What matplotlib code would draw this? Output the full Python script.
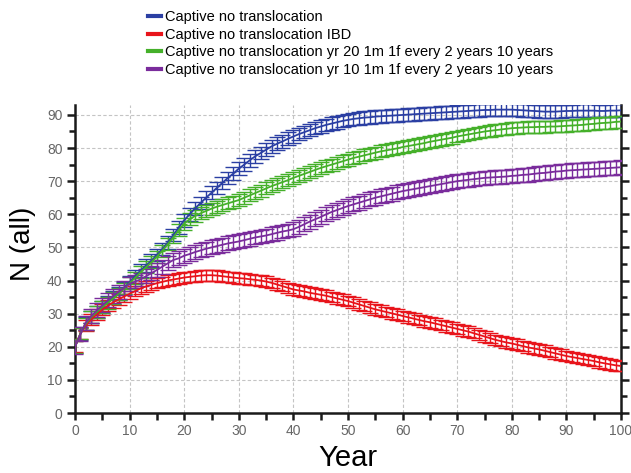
import numpy as np
import matplotlib
matplotlib.use("Agg")
import matplotlib.pyplot as plt
from matplotlib.lines import Line2D
from matplotlib.ticker import MultipleLocator

plt.rcParams['font.family'] = ['Liberation Sans', 'DejaVu Sans']

years = list(range(0, 101))

labels = [
    "Captive no translocation",
    "Captive no translocation IBD",
    "Captive no translocation yr 20 1m 1f every 2 years 10 years",
    "Captive no translocation yr 10 1m 1f every 2 years 10 years",
]

n_blue = [20, 24, 27, 29, 30.5, 32, 33.5, 34.8, 36, 37.8,
          39.5, 41.2, 43, 44.5, 46, 47.7, 49.5, 51.5, 53.7, 56,
          58.2, 60, 61.8, 63.4, 65, 66.5, 68, 69.5, 71, 72.3,
          73.8, 75, 76.3, 77.5, 78.5, 79.5, 80.5, 81.3, 82, 82.8,
          83.5, 84.2, 84.8, 85.4, 86, 86.5, 87, 87.4, 87.8, 88.2,
          88.5, 88.8, 89, 89.2, 89.3, 89.5, 89.6, 89.7, 89.8, 89.9,
          90, 90.1, 90.2, 90.3, 90.4, 90.5, 90.6, 90.7, 90.8, 90.9,
          91, 91.1, 91.2, 91.3, 91.4, 91.5, 91.5, 91.6, 91.6, 91.6,
          91.6, 91.5, 91.4, 91.3, 91.2, 91.1, 91, 91, 91, 91.1,
          91.2, 91.2, 91.3, 91.3, 91.3, 91.3, 91.2, 91.2, 91.3, 91.3,
          91.4]

n_red = [20, 24, 26.5, 28.3, 29.8, 31.2, 32.4, 33.4, 34.3, 35.2,
         36, 36.8, 37.6, 38.2, 38.7, 39.2, 39.6, 40, 40.3, 40.6,
         40.9, 41.1, 41.3, 41.5, 41.6, 41.6, 41.5, 41.3, 41.1, 40.9,
         40.7, 40.6, 40.4, 40.2, 40, 39.7, 39.3, 38.8, 38.3, 37.8,
         37.3, 37, 36.7, 36.3, 36, 35.7, 35.4, 35, 34.6, 34.2,
         33.8, 33.3, 32.8, 32.3, 31.8, 31.3, 30.9, 30.5, 30.1, 29.7,
         29.3, 28.9, 28.5, 28.1, 27.7, 27.4, 27, 26.6, 26.2, 25.8,
         25.4, 25, 24.6, 24.1, 23.6, 23.1, 22.6, 22.1, 21.7, 21.3,
         21, 20.6, 20.2, 19.8, 19.5, 19.2, 18.8, 18.4, 18, 17.6,
         17.2, 16.9, 16.6, 16.3, 16, 15.7, 15.3, 15, 14.7, 14.4,
         14.2]

n_green = [20, 24, 27, 29, 30.5, 32, 33.3, 34.6, 36, 37.6,
           39.2, 40.8, 42.5, 44, 45.5, 47.2, 49, 51, 53, 55.2,
           57.2, 58.5, 59.5, 60.3, 61, 61.7, 62.3, 62.8, 63.3, 63.8,
           64.3, 65, 65.7, 66.4, 67.1, 67.8, 68.5, 69.1, 69.7, 70.3,
           71, 71.6, 72.2, 72.8, 73.4, 74, 74.5, 75, 75.5, 76,
           76.5, 77, 77.4, 77.8, 78.2, 78.6, 79, 79.3, 79.6, 79.9,
           80.3, 80.6, 80.9, 81.2, 81.5, 81.9, 82.2, 82.5, 82.8, 83.1,
           83.5, 83.8, 84.1, 84.4, 84.7, 85, 85.2, 85.4, 85.6, 85.8,
           86, 86.1, 86.2, 86.3, 86.3, 86.4, 86.4, 86.5, 86.5, 86.6,
           86.7, 86.8, 86.9, 87, 87.2, 87.3, 87.5, 87.6, 87.7, 87.9,
           88]

n_purple = [20, 23.8, 27.3, 29.3, 31, 32.5, 34, 35.4, 36.6, 37.8,
            39, 39.7, 40.3, 41.3, 42.2, 43.2, 44.2, 45.2, 46.2, 46.7,
            47.5, 48, 48.6, 49.1, 49.6, 50, 50.4, 50.8, 51.2, 51.5,
            51.8, 52.2, 52.6, 53, 53.3, 53.6, 54, 54.4, 54.8, 55.1,
            55.5, 56.2, 57, 57.8, 58.5, 59.2, 60, 60.7, 61.3, 61.9,
            62.5, 63, 63.5, 64, 64.5, 65, 65.4, 65.8, 66.2, 66.6,
            67, 67.3, 67.6, 67.9, 68.2, 68.5, 68.8, 69.1, 69.4, 69.7,
            70, 70.2, 70.4, 70.6, 70.8, 71, 71.1, 71.2, 71.3, 71.4,
            71.6, 71.7, 71.9, 72, 72.2, 72.4, 72.5, 72.7, 72.9, 73,
            73.2, 73.3, 73.4, 73.5, 73.6, 73.7, 73.8, 73.9, 74, 74.1,
            74.2]

# standard errors, roughly constant per run
se_blue = 1.9
se_red = 1.6
se_green = 1.8
se_purple = 2.1

colors = ["#2b3fa3", "#e8141b", "#45b02a", "#7a2c9c"]


def main():
    fig = plt.figure(figsize=(6.31, 4.73), dpi=100)
    ax = fig.add_axes([75 / 631, 1 - 413 / 473, 546 / 631, 308 / 473])

    series = [(n_blue, se_blue), (n_red, se_red), (n_green, se_green), (n_purple, se_purple)]
    for (vals, se), color in zip(series, colors):
        ax.errorbar(years, vals, yerr=se, color=color, lw=1.3, elinewidth=1.0,
                    capsize=5.5, capthick=1.0, zorder=3)

    ax.set_xlim(0, 100)
    ax.set_ylim(0, 93)
    ax.xaxis.set_major_locator(MultipleLocator(10))
    ax.xaxis.set_minor_locator(MultipleLocator(5))
    ax.yaxis.set_major_locator(MultipleLocator(10))
    ax.yaxis.set_minor_locator(MultipleLocator(5))

    ax.grid(True, which='major', color='#c4c4c4', linestyle=(0, (3, 2)), lw=0.8, zorder=0)
    ax.set_axisbelow(True)

    ax.spines['top'].set_visible(False)
    for s in ['left', 'right', 'bottom']:
        ax.spines[s].set_linewidth(1.8)
        ax.spines[s].set_color('#1a1a1a')

    ax.tick_params(axis='both', which='both', direction='out', width=1.8, color='#1a1a1a',
                   labelsize=10, labelcolor='#666666', pad=3)
    ax.tick_params(axis='y', which='both', right=True, labelright=False)
    ax.tick_params(axis='y', which='major', length=6)
    ax.tick_params(axis='y', which='minor', length=4)
    ax.tick_params(axis='x', which='both', length=5)

    ax.set_xlabel("Year", fontsize=21, labelpad=4)
    ax.set_ylabel("N (all)", fontsize=20)
    ax.yaxis.set_label_coords(-0.072, 0.55)

    handles = [Line2D([0], [0], color=c, lw=3) for c in colors]
    fig.legend(handles, labels, loc='upper left', bbox_to_anchor=(148 / 631, 1 - 10 / 473),
               frameon=False, fontsize=10.5, handlelength=0.9, handletextpad=0.25,
               labelspacing=0.25, borderpad=0, borderaxespad=0)

    fig.savefig("out.png", dpi=100)


if __name__ == "__main__":
    main()
